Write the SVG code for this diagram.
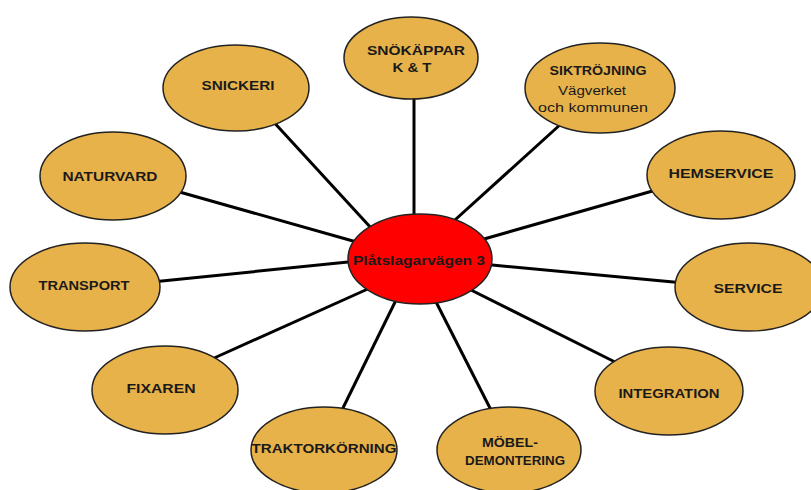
<svg xmlns="http://www.w3.org/2000/svg" width="811" height="490" viewBox="0 0 811 490">
<style>
.n{fill:#E8B24A;stroke:#222;stroke-width:1.5}
.c{fill:#FF0000;stroke:#222;stroke-width:1.5}
.l{stroke:#000;stroke-width:3;fill:none}
text{font-family:"Liberation Sans",Arial,sans-serif;font-size:12.5px;fill:#1a1a1a;text-anchor:middle}
.b{font-weight:bold}
</style>
<rect width="811" height="490" fill="#fff"/>
<g id="connectors">
<line class="l" x1="414" y1="95" x2="414" y2="225"/>
<line class="l" x1="562" y1="123" x2="445" y2="229"/>
<line class="l" x1="270" y1="118" x2="372" y2="229"/>
<line class="l" x1="176" y1="191" x2="360" y2="243"/>
<line class="l" x1="152" y1="282" x2="358" y2="261"/>
<line class="l" x1="212" y1="359" x2="370" y2="288"/>
<line class="l" x1="340" y1="414" x2="400" y2="292"/>
<line class="l" x1="493" y1="414" x2="432" y2="294"/>
<line class="l" x1="617" y1="363" x2="465" y2="287"/>
<line class="l" x1="684" y1="283" x2="482" y2="264"/>
<line class="l" x1="656" y1="190" x2="477" y2="241"/>
</g>
<g id="center"><ellipse class="c" cx="420" cy="259" rx="72" ry="45"/><text class="b" x="419" y="265" textLength="132" lengthAdjust="spacingAndGlyphs">Plåtslagarvägen 3</text></g>
<g id="snokappar"><ellipse class="n" cx="411" cy="58" rx="67" ry="41"/><text class="b" x="416" y="55" textLength="98" lengthAdjust="spacingAndGlyphs">SNÖKÄPPAR</text><text class="b" x="412" y="72" textLength="39" lengthAdjust="spacingAndGlyphs">K &amp; T</text></g>
<g id="siktrojning"><ellipse class="n" cx="600" cy="88" rx="75" ry="45"/><text class="b" x="598" y="75" textLength="97" lengthAdjust="spacingAndGlyphs">SIKTRÖJNING</text><text x="592" y="95" textLength="68" lengthAdjust="spacingAndGlyphs">Vägverket</text><text x="593" y="112" textLength="110" lengthAdjust="spacingAndGlyphs">och kommunen</text></g>
<g id="snickeri"><ellipse class="n" cx="236" cy="88" rx="73" ry="43"/><text class="b" x="238" y="90" textLength="73" lengthAdjust="spacingAndGlyphs">SNICKERI</text></g>
<g id="naturvard"><ellipse class="n" cx="113" cy="176" rx="73" ry="44"/><text class="b" x="110" y="181" textLength="95" lengthAdjust="spacingAndGlyphs">NATURVARD</text></g>
<g id="hemservice"><ellipse class="n" cx="721" cy="175" rx="74" ry="44"/><text class="b" x="721" y="178" textLength="105" lengthAdjust="spacingAndGlyphs">HEMSERVICE</text></g>
<g id="transport"><ellipse class="n" cx="85" cy="287" rx="75" ry="44"/><text class="b" x="84" y="290" textLength="91" lengthAdjust="spacingAndGlyphs">TRANSPORT</text></g>
<g id="service"><ellipse class="n" cx="749" cy="287" rx="74" ry="44"/><text class="b" x="748" y="293" textLength="69" lengthAdjust="spacingAndGlyphs">SERVICE</text></g>
<g id="fixaren"><ellipse class="n" cx="165" cy="390" rx="73" ry="44"/><text class="b" x="161" y="393" textLength="69" lengthAdjust="spacingAndGlyphs">FIXAREN</text></g>
<g id="integration"><ellipse class="n" cx="669" cy="391" rx="74" ry="44"/><text class="b" x="669" y="398" textLength="101" lengthAdjust="spacingAndGlyphs">INTEGRATION</text></g>
<g id="traktorkorning"><ellipse class="n" cx="324" cy="450" rx="73" ry="43"/><text class="b" x="324" y="453" textLength="145" lengthAdjust="spacingAndGlyphs">TRAKTORKÖRNING</text></g>
<g id="mobel"><ellipse class="n" cx="509" cy="450" rx="72" ry="43"/><text class="b" x="510" y="447" textLength="56" lengthAdjust="spacingAndGlyphs">MÖBEL-</text><text class="b" x="515" y="465" textLength="100" lengthAdjust="spacingAndGlyphs">DEMONTERING</text></g>
</svg>
